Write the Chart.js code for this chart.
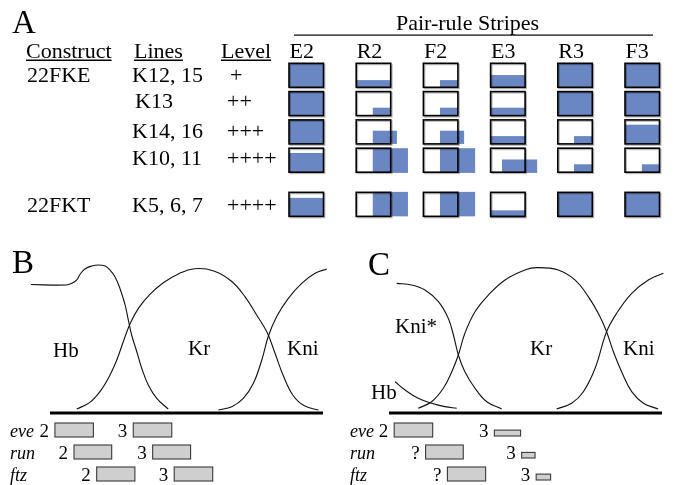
<!DOCTYPE html>
<html><head><meta charset="utf-8">
<script src="https://cdn.jsdelivr.net/npm/chart.js@4.4.1/dist/chart.umd.min.js"></script>
<style>html,body{margin:0;padding:0;background:#fff;overflow:hidden}#wrap{position:relative;width:674px;height:485px}</style>
</head><body><div id="wrap"><canvas id="c" width="674" height="485"></canvas></div>
<script>
// ===== Panel A data =====
const stripes = ['E2','R2','F2','E3','R3','F3'];
const constructs = ['22FKE','','','','22FKT'];
const lines = ['K12, 15','K13','K14, 16','K10, 11','K5, 6, 7'];
const levels = ['+','++','+++','++++','++++'];
// expression domain in each stripe: [left, right, top, bottom] as fractions of the wild-type stripe box
const exprK12_15 = [[0,1,0,1],[0,1,0.7,1],[0.48,1,0.7,1],[0,1,0.49,1],[0,1,0,1],[0,1,0,1]];
const exprK13    = [[0,1,0,1],[0.48,1,0.67,1],[0.48,1,0.67,1],[0,1,0.67,1],[0,1,0,1],[0,1,0,1]];
const exprK14_16 = [[0,1,0,1],[0.48,1.18,0.45,1],[0.48,1.18,0.45,1],[0,1,0.675,1],[0.47,1,0.675,1],[0,1,0.2,1]];
const exprK10_11 = [[0,1,0.2,1],[0.48,1.5,0,1.03],[0.48,1.5,0,1.03],[0.33,1.35,0.47,1.03],[0.47,1,0.67,1],[0.49,1,0.67,1]];
const exprK5_6_7 = [[0,1,0.23,1],[0.48,1.5,-0.02,1],[0.48,1.5,-0.02,1],[-0.02,1,0.75,1.05],[0,1,0,1],[0,1,0,1]];
const expression = [exprK12_15, exprK13, exprK14_16, exprK10_11, exprK5_6_7];

// ===== Panel B gradients: [position (% of axis), relative concentration] =====
const hbB  = [[-7.0,0.868],[5.8,0.865],[8.0,0.876],[9.8,0.899],[11.0,0.937],[12.8,0.973],[15.3,0.993],[17.7,1.0],[20.2,0.993],[22.0,0.966],[23.8,0.921],[25.6,0.843],[27.5,0.730],[28.7,0.628],[29.9,0.527],[31.8,0.414],[33.6,0.302],[36.0,0.189],[39.1,0.099],[43.3,0.027]];
const krB  = [[9.8,0.027],[14.5,0.07],[18.5,0.15],[21.8,0.25],[24.5,0.36],[27.0,0.49],[29.5,0.61],[32.5,0.71],[36.5,0.80],[41.5,0.88],[47.0,0.94],[53.0,0.975],[60.0,0.96],[66.5,0.89],[71.4,0.786],[75.7,0.662],[79.5,0.545],[82.5,0.40],[85.5,0.25],[89.0,0.12],[93.0,0.05],[98.3,0.02]];
const kniB = [[61.7,0.020],[66.6,0.043],[70.8,0.099],[74.5,0.201],[77.6,0.360],[80.0,0.520],[83.0,0.651],[87.3,0.775],[92.2,0.876],[97.1,0.944],[101.4,0.973]];
// ===== Panel C gradients =====
const kniStarC = [[2.8,0.876],[8.3,0.865],[13.2,0.831],[18.1,0.752],[21.7,0.640],[23.6,0.527],[25.4,0.392],[27.8,0.279],[31.5,0.167],[35.8,0.076],[41.3,0.027]];
const hbC  = [[2.2,0.211],[5.9,0.155],[10.7,0.099],[15.6,0.066],[20.5,0.043],[24.8,0.032]];
const krC  = [[10.7,0.032],[15.6,0.076],[19.9,0.167],[23.0,0.279],[25.4,0.392],[27.8,0.539],[31.5,0.684],[36.4,0.797],[42.5,0.899],[49.8,0.966],[54.1,0.982],[62.0,0.966],[68.1,0.899],[73.0,0.786],[77.3,0.651],[79.7,0.549],[82.2,0.414],[85.2,0.279],[88.9,0.144],[93.2,0.066],[98.6,0.027]];
const kniC = [[61.4,0.027],[66.9,0.066],[71.2,0.144],[75.5,0.302],[79.7,0.549],[83.4,0.674],[88.9,0.809],[95.0,0.899],[100.5,0.944]];

// ===== pair-rule stripes: [label, start %, end %, relative level] =====
const genes = ['eve','run','ftz'];
const eveB = [['2',1.8,15.9,1],['3',30.5,44.6,1]];
const runB = [['2',8.8,22.6,1],['3',37.6,51.5,1]];
const ftzB = [['2',17.1,31.1,1],['3',45.5,59.6,1]];
const eveC = [['2',1.9,16.0,1],['3',38.6,48.2,0.42]];
const runC = [['?',13.4,27.2,1],['3',48.6,53.5,0.4]];
const ftzC = [['?',21.4,35.4,1],['3',53.9,59.2,0.42]];

// ===== layout =====
const W = 674, H = 485;
const BLUE = 'rgb(107,135,195)';
const SERIF = '"Liberation Serif","Times New Roman",serif';
function hSpan(v0, p0, v1, p1) { const k = (p1 - p0) / (v1 - v0); const min = v0 - p0 / k; return { min, max: min + W / k }; }
function vSpanRev(v0, p0, v1, p1) { const k = (p1 - p0) / (v1 - v0); const min = v0 - p0 / k; return { min, max: min + H / k }; }
function vSpanUp(v0, p0, v1, p1) { const k = (p0 - p1) / (v1 - v0); const min = v0 - (H - p0) / k; return { min, max: min + H / k }; }

const COL_STEP = 67.2, CELL_W = 34.5 / COL_STEP, CELL_H = 24 / 28.3;
const ROW_POS = [0, 1, 2, 3, 4.56];
const ROW_TEXT_Y = [82, 108, 138, 165, 212];
const axS = hSpan(0, 289, 1, 289 + COL_STEP);
const ayS = vSpanRev(0, 63.3, 1, 91.6);
const bxS = hSpan(0, 50, 100, 323);
const cxS = hSpan(0, 389, 100, 662);
const vyS = vSpanUp(0, 413, 1, 265);
const gyS = vSpanRev(0, 437, 1, 459);

function curve(data, xAxisID) {
  return { type: 'line', data: data.map(p => ({ x: p[0], y: p[1] })), xAxisID, yAxisID: 'vy',
    borderColor: '#111', borderWidth: 1.1, pointRadius: 0, fill: false, tension: 0.4 };
}

const drawPlugin = {
  id: 'figure',
  afterDatasetsDraw(chart) {
    const ctx = chart.ctx, s = chart.scales;
    const X = v => s.x.getPixelForValue(v), Y = v => s.y.getPixelForValue(v);
    function text(str, x, y, size, opts = {}) {
      ctx.save();
      ctx.font = (opts.italic ? 'italic ' : '') + size + 'px ' + SERIF;
      ctx.fillStyle = '#000'; ctx.textBaseline = 'alphabetic'; ctx.textAlign = opts.align || 'left';
      ctx.fillText(str, X(x), Y(y));
      if (opts.underline) {
        const w = ctx.measureText(str).width;
        ctx.fillRect(X(x), Y(y) + 1.5, w, 1.5);
      }
      ctx.restore();
    }
    // ---------- Panel A ----------
    text('A', 12, 33, 33);
    text('Pair-rule Stripes', 467.5, 30, 22, { align: 'center' });
    ctx.fillStyle = '#000'; ctx.fillRect(X(294), Y(34.5), X(653) - X(294), 1.2);
    text('Construct', 26, 58, 22, { underline: true });
    text('Lines', 134, 58, 22, { underline: true });
    text('Level', 221, 58, 22, { underline: true });
    stripes.forEach((st, i) => text(st, s.ax.getPixelForValue(i) + 0.5, 58, 22));
    for (let r = 0; r < lines.length; r++) {
      if (constructs[r]) text(constructs[r], 27, ROW_TEXT_Y[r], 22);
      text(lines[r], lines[r] === 'K13' ? 135 : 132, ROW_TEXT_Y[r], 22);
      text(levels[r], levels[r] === '+' ? 230 : 227, ROW_TEXT_Y[r], 22);
      expression[r].forEach((e, i) => {
        const bx0 = s.ax.getPixelForValue(i), bx1 = s.ax.getPixelForValue(i + CELL_W);
        const by0 = s.ay.getPixelForValue(ROW_POS[r]), by1 = s.ay.getPixelForValue(ROW_POS[r] + CELL_H);
        const fx0 = s.ax.getPixelForValue(i + e[0] * CELL_W), fx1 = s.ax.getPixelForValue(i + e[1] * CELL_W);
        const fy0 = s.ay.getPixelForValue(ROW_POS[r] + e[2] * CELL_H), fy1 = s.ay.getPixelForValue(ROW_POS[r] + e[3] * CELL_H);
        ctx.save();
        ctx.fillStyle = BLUE; ctx.fillRect(fx0, fy0, fx1 - fx0, fy1 - fy0);
        ctx.strokeStyle = 'rgba(0,0,0,0.28)'; ctx.lineWidth = 1.5;
        ctx.strokeRect(bx0 + 1.2, by0 + 1.2, bx1 - bx0, by1 - by0);
        ctx.strokeStyle = '#000'; ctx.lineWidth = 1.6;
        ctx.strokeRect(bx0, by0, bx1 - bx0, by1 - by0);
        ctx.restore();
      });
    }
    // ---------- Panels B & C ----------
    function panel(letter, lx, ly, xs, rows, labelX) {
      text(letter, lx, ly, 33);
      ctx.fillStyle = '#000';
      const x0 = xs.getPixelForValue(0), x1 = xs.getPixelForValue(100), yb = s.vy.getPixelForValue(0);
      ctx.fillRect(x0, yb - 1.5, x1 - x0, 3);
      rows.forEach((row, r) => {
        const bottom = s.gy.getPixelForValue(r);
        text(genes[r], labelX, bottom, 18, { italic: true });
        row.forEach(st => {
          const a = xs.getPixelForValue(st[1]), b = xs.getPixelForValue(st[2]);
          const h = 14 * st[3];
          const bot = st[3] < 1 ? bottom - 1 : bottom;
          ctx.save();
          ctx.fillStyle = '#cfcfcf'; ctx.fillRect(a, bot - h, b - a, h);
          ctx.strokeStyle = '#3a3a3a'; ctx.lineWidth = 1.1; ctx.strokeRect(a, bot - h, b - a, h);
          ctx.restore();
          text(st[0], s.x.getValueForPixel(a) - 6, bottom, 19, { align: 'right' });
        });
      });
    }
    panel('B', 12, 273, s.bx, [eveB, runB, ftzB], 10);
    panel('C', 368, 275, s.cx, [eveC, runC, ftzC], 350);
    text('Hb', 53, 357, 21); text('Kr', 188, 355, 21); text('Kni', 287, 355, 21);
    text('Kni*', 395, 333, 21); text('Kr', 530, 355, 21); text('Kni', 623, 355, 21); text('Hb', 371, 399, 21);
  }
};

new Chart(document.getElementById('c'), {
  type: 'scatter',
  data: { datasets: [
    curve(hbB, 'bx'), curve(krB, 'bx'), curve(kniB, 'bx'),
    curve(kniStarC, 'cx'), curve(hbC, 'cx'), curve(krC, 'cx'), curve(kniC, 'cx')
  ] },
  options: {
    responsive: false, animation: false, devicePixelRatio: 1,
    layout: { padding: 0 },
    plugins: { legend: { display: false }, tooltip: { enabled: false }, title: { display: false } },
    events: [],
    scales: {
      x:  { type: 'linear', min: 0, max: W, display: false },
      y:  { type: 'linear', min: 0, max: H, reverse: true, display: false },
      ax: { type: 'linear', axis: 'x', min: axS.min, max: axS.max, display: false },
      ay: { type: 'linear', axis: 'y', min: ayS.min, max: ayS.max, reverse: true, display: false },
      bx: { type: 'linear', axis: 'x', min: bxS.min, max: bxS.max, display: false },
      cx: { type: 'linear', axis: 'x', min: cxS.min, max: cxS.max, display: false },
      vy: { type: 'linear', axis: 'y', min: vyS.min, max: vyS.max, display: false },
      gy: { type: 'linear', axis: 'y', min: gyS.min, max: gyS.max, reverse: true, display: false }
    }
  },
  plugins: [drawPlugin]
});
</script></body></html>
